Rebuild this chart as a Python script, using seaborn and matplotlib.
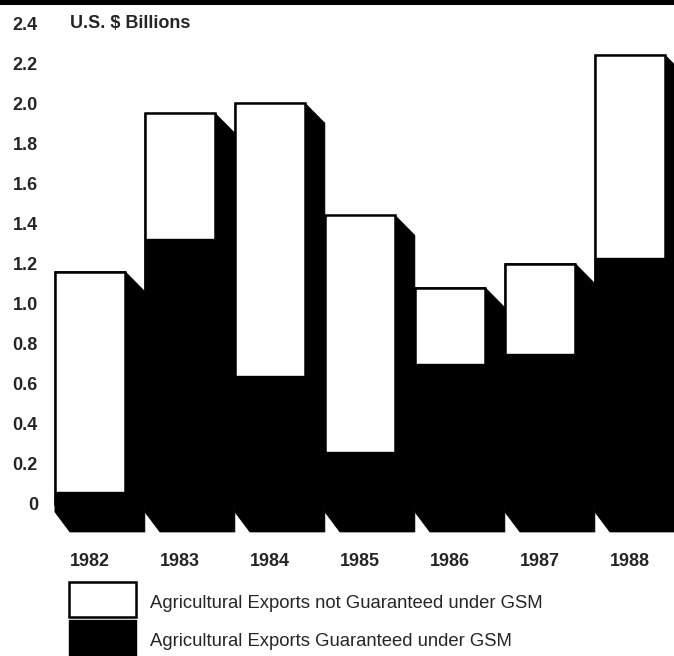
import matplotlib
matplotlib.use("Agg")
import matplotlib.pyplot as plt
import seaborn as sns
import pandas as pd
import numpy as np
from matplotlib.patches import Polygon, Rectangle

# ---- data ----
years = ["1982", "1983", "1984", "1985", "1986", "1987", "1988"]
guaranteed = [0.06, 1.32, 0.64, 0.26, 0.70, 0.75, 1.23]
not_guaranteed = [1.10, 0.63, 1.36, 1.18, 0.38, 0.45, 1.01]
y_ticks = [0, 0.2, 0.4, 0.6, 0.8, 1.0, 1.2, 1.4, 1.6, 1.8, 2.0, 2.2, 2.4]
y_tick_labels = ["0", "0.2", "0.4", "0.6", "0.8", "1.0", "1.2", "1.4", "1.6", "1.8", "2.0", "2.2", "2.4"]
unit_label = "U.S. $ Billions"
legend_labels = ["Agricultural Exports not Guaranteed under GSM",
                 "Agricultural Exports Guaranteed under GSM"]

sns.set_theme(style="white")
plt.rcParams["font.family"] = ["Liberation Sans", "DejaVu Sans"]

W, H = 674, 656
fig = plt.figure(figsize=(W / 100, H / 100), dpi=100)

# axes geometry in pixels
ax_left, ax_right, ax_top, ax_bottom = 40, 674, 0, 545
ax = fig.add_axes([ax_left / W, 1 - ax_bottom / H, (ax_right - ax_left) / W, (ax_bottom - ax_top) / H])

# scale: 0 at y=504px, 200.4 px per unit ; category i centred at 90+90*i px
zero_px, px_per_unit = 504, 200.4
cat0_px, px_per_cat = 90, 90

df = pd.DataFrame({"year": years, "guaranteed": guaranteed, "not_guaranteed": not_guaranteed})
df["total"] = df["guaranteed"] + df["not_guaranteed"]

bw = 0.78
# 3D depth offsets (pixels -> data)
dx = 1 - bw                     # depth reaches the next bar
dx_floor = 15 / px_per_cat
dy_top = 20 / px_per_unit
dy_step = 8 / px_per_unit
dy_bot = 28 / px_per_unit

for i, h in enumerate(df["total"]):
    x0, x1 = i - bw / 2, i + bw / 2
    poly = Polygon([(x0, 0), (x0, -dy_step), (x0 + dx_floor, -dy_bot), (x1 + dx, -dy_bot),
                    (x1 + dx, h - dy_top), (x1, h), (x0, h)],
                   closed=True, facecolor="black", edgecolor="black", lw=0.5,
                   zorder=1, clip_on=False)
    ax.add_patch(poly)

sns.barplot(data=df, x="year", y="total", color="white", edgecolor="black",
            linewidth=1.8, width=bw, saturation=1, ax=ax, zorder=2)
sns.barplot(data=df, x="year", y="guaranteed", color="black", edgecolor="black",
            linewidth=1.0, width=bw, saturation=1, ax=ax, zorder=3)

ax.set_xlim((ax_left - cat0_px) / px_per_cat, (ax_right - cat0_px) / px_per_cat)
ax.set_ylim((zero_px - ax_bottom) / px_per_unit, (zero_px - ax_top) / px_per_unit)

for s in ax.spines.values():
    s.set_visible(False)
ax.set_xlabel("")
ax.set_ylabel("")
ax.set_yticks(y_ticks)
ax.set_yticklabels(y_tick_labels, fontsize=13, fontweight="bold")
ax.set_xticks(range(len(years)))
ax.set_xticklabels(years, fontsize=13, fontweight="bold")
ax.tick_params(axis="y", length=0, pad=1.5)
ax.tick_params(axis="x", length=0, pad=6)
ax.grid(False)

# top rule
fig.add_artist(Rectangle((0, 1 - 5 / H), 1, 5 / H, transform=fig.transFigure,
                         facecolor="black", edgecolor="none"))
# unit label
fig.text(70 / W, 1 - 23 / H, unit_label, fontsize=13, fontweight="bold",
         ha="left", va="center")

# legend
fig.add_artist(Rectangle((69 / W, 1 - 617 / H), 67 / W, 35 / H, transform=fig.transFigure,
                         facecolor="white", edgecolor="black", lw=1.8))
fig.add_artist(Rectangle((69 / W, 1 - 660 / H), 67 / W, 40 / H, transform=fig.transFigure,
                         facecolor="black", edgecolor="black", lw=1.0))
fig.text(150 / W, 1 - 603 / H, legend_labels[0], fontsize=13.3, ha="left", va="center")
fig.text(150 / W, 1 - 642 / H, legend_labels[1], fontsize=13.3, ha="left", va="center")

fig.savefig("out.png", dpi=100, facecolor="white")
